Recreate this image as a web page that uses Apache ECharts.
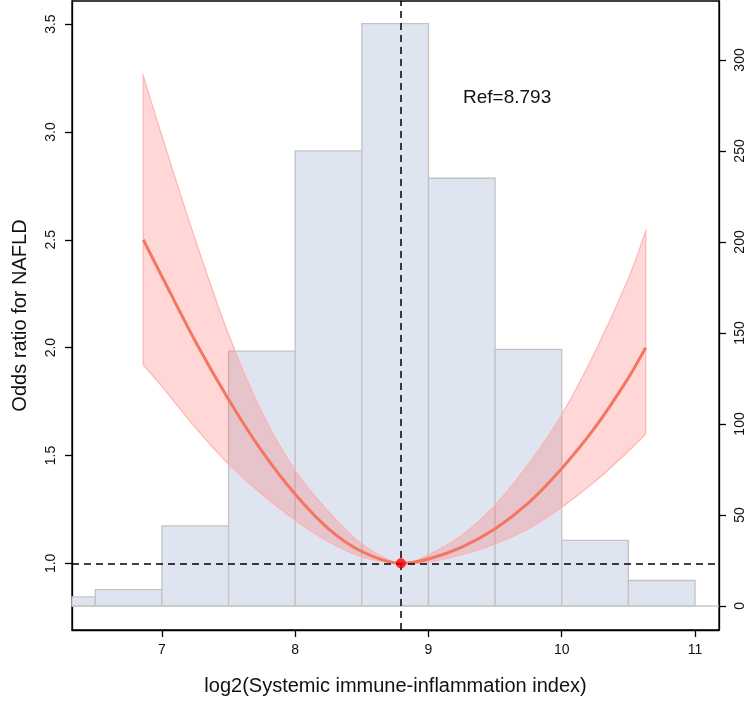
<!DOCTYPE html>
<html>
<head>
<meta charset="utf-8">
<script src="https://cdn.jsdelivr.net/npm/echarts@6/dist/echarts.min.js"></script>
<style>
html,body{margin:0;padding:0;background:#fff;}
#chart{width:750px;height:702px;}
</style>
</head>
<body>
<div id="chart"></div>
<script>
// ---- data ----
const binStarts = [6.0, 6.5, 7.0, 7.5, 8.0, 8.5, 9.0, 9.5, 10.0, 10.5];
const binEnds   = [6.5, 7.0, 7.5, 8.0, 8.5, 9.0, 9.5, 10.0, 10.5, 11.0];
const binCounts = [5, 9, 44, 140, 250, 320, 235, 141, 36, 14];

const curveX     = [6.86, 7.0, 7.25, 7.5, 7.75, 8.0, 8.25, 8.5, 8.793, 9.0, 9.25, 9.5, 9.75, 10.0, 10.25, 10.5, 10.63];
const curveOR    = [2.50, 2.33, 2.03, 1.76, 1.52, 1.32, 1.16, 1.055, 1.0, 1.02, 1.075, 1.16, 1.28, 1.44, 1.63, 1.86, 2.00];
const curveUpper = [3.26, 2.98, 2.50, 2.06, 1.70, 1.43, 1.24, 1.09, 1.0, 1.04, 1.13, 1.27, 1.46, 1.69, 1.98, 2.32, 2.54];
const curveLower = [1.92, 1.82, 1.63, 1.46, 1.32, 1.20, 1.10, 1.03, 1.0, 1.005, 1.04, 1.09, 1.16, 1.26, 1.38, 1.52, 1.60];

const refX = 8.793;
const refOR = 1.0;
const refLabel = 'Ref=8.793';

const xTicks = [7, 8, 9, 10, 11];
const yTicksOR = [1.0, 1.5, 2.0, 2.5, 3.0, 3.5];
const yTicksCount = [0, 50, 100, 150, 200, 250, 300];

const xTitle = 'log2(Systemic immune-inflammation index)';
const yTitle = 'Odds ratio for NAFLD';

// axis ranges
const xMin = 6.325, xMax = 11.18;
const yMin = 0.691, yMax = 3.607;
const cMin = -13.2, cMax = 332.4;

// ---- build ----
const FONT = 'Liberation Sans, Arial, sans-serif';
const histData = binStarts.map((s, i) => [s, binEnds[i], binCounts[i]]);
const lineData = curveX.map((x, i) => [x, curveOR[i]]);

// smooth path through screen points (Catmull-Rom -> cubic Bezier)
function bezierSegs(pts) {
  let d = '';
  for (let i = 0; i < pts.length - 1; i++) {
    const p0 = pts[Math.max(i - 1, 0)], p1 = pts[i], p2 = pts[i + 1], p3 = pts[Math.min(i + 2, pts.length - 1)];
    const c1 = [p1[0] + (p2[0] - p0[0]) / 6, p1[1] + (p2[1] - p0[1]) / 6];
    const c2 = [p2[0] - (p3[0] - p1[0]) / 6, p2[1] - (p3[1] - p1[1]) / 6];
    d += ' C' + c1[0] + ',' + c1[1] + ' ' + c2[0] + ',' + c2[1] + ' ' + p2[0] + ',' + p2[1];
  }
  return d;
}

const chart = echarts.init(document.getElementById('chart'), null, {renderer: 'canvas'});

const axisLineStyle = {color: '#000', width: 1.3};

const option = {
  animation: false,
  backgroundColor: '#fff',
  grid: {left: 72, right: 31, top: 1, bottom: 72, show: true, borderColor: '#000', borderWidth: 1.3, backgroundColor: 'transparent'},
  xAxis: {
    type: 'value', min: xMin, max: xMax,
    name: xTitle, nameLocation: 'middle', nameGap: 46,
    nameTextStyle: {fontFamily: FONT, fontSize: 20, color: '#111'},
    axisLine: {show: true, onZero: false, lineStyle: axisLineStyle},
    axisTick: {show: true, length: 7, lineStyle: axisLineStyle, customValues: xTicks},
    axisLabel: {fontFamily: FONT, fontSize: 14, color: '#111', margin: 13, customValues: xTicks, formatter: v => String(v)},
    splitLine: {show: false}
  },
  yAxis: [
    {
      type: 'value', min: yMin, max: yMax, position: 'left',
      name: yTitle, nameLocation: 'middle', nameGap: 42, nameRotate: 90,
      nameTextStyle: {fontFamily: FONT, fontSize: 20, color: '#111'},
      axisLine: {show: true, onZero: false, lineStyle: axisLineStyle},
      axisTick: {show: true, length: 7, lineStyle: axisLineStyle, customValues: yTicksOR},
      axisLabel: {fontFamily: FONT, fontSize: 14, color: '#111', rotate: 90, margin: 14, customValues: yTicksOR, formatter: v => v.toFixed(1)},
      splitLine: {show: false}
    },
    {
      type: 'value', min: cMin, max: cMax, position: 'right',
      axisLine: {show: true, onZero: false, lineStyle: axisLineStyle},
      axisTick: {show: true, length: 7, lineStyle: axisLineStyle, customValues: yTicksCount},
      axisLabel: {fontFamily: FONT, fontSize: 14, color: '#111', rotate: 90, margin: 14, customValues: yTicksCount, formatter: v => String(v)},
      splitLine: {show: false}
    }
  ],
  graphic: [{
    type: 'text', left: 463, top: 88, z: 100,
    style: {text: refLabel, fontFamily: FONT, fontSize: 19, fill: '#111'}
  }],
  series: [
    {
      type: 'custom', yAxisIndex: 1, z: 1,
      data: histData,
      encode: {x: [0, 1], y: 2},
      renderItem: function (params, api) {
        const p0 = api.coord([api.value(0), api.value(2)]);
        const p1 = api.coord([api.value(1), 0]);
        const rect = {x: p0[0], y: p0[1], width: p1[0] - p0[0], height: p1[1] - p0[1]};
        const clipped = echarts.graphic.clipRectByRect(rect, {
          x: params.coordSys.x, y: params.coordSys.y, width: params.coordSys.width, height: params.coordSys.height
        });
        if (!clipped) return;
        return {type: 'rect', shape: clipped, style: {fill: '#DEE4F0', stroke: '#C3C3C3', lineWidth: 1.3}};
      }
    },
    {
      type: 'line', yAxisIndex: 1, z: 2, silent: true, symbol: 'none',
      data: [[xMin, 0], [xMax, 0]],
      lineStyle: {color: '#C8C8C8', width: 1.3}
    },
    {
      // confidence band
      type: 'custom', yAxisIndex: 0, z: 3, silent: true,
      data: [[refX, refOR]],
      renderItem: function (params, api) {
        const up = curveX.map((x, i) => api.coord([x, curveUpper[i]]));
        const lo = curveX.map((x, i) => api.coord([x, curveLower[i]])).reverse();
        let d = 'M' + up[0][0] + ',' + up[0][1] + bezierSegs(up);
        d += ' L' + lo[0][0] + ',' + lo[0][1] + bezierSegs(lo) + ' Z';
        return {
          type: 'path', shape: {pathData: d},
          style: {fill: 'rgba(255,110,110,0.28)', stroke: '#FFB3B3', lineWidth: 1.2}
        };
      }
    },
    {
      type: 'line', yAxisIndex: 0, z: 4, smooth: 0.3, symbol: 'none',
      data: lineData,
      lineStyle: {color: '#F47660', width: 3}
    },
    {
      type: 'line', yAxisIndex: 0, z: 5, symbol: 'none', data: [],
      markLine: {
        silent: true, symbol: 'none', label: {show: false},
        lineStyle: {color: '#000', type: [7, 5], width: 1.5},
        data: [{xAxis: refX}, {yAxis: refOR}]
      }
    },
    {
      type: 'scatter', yAxisIndex: 0, z: 6, symbolSize: 10,
      itemStyle: {color: '#FF0000'},
      data: [[refX, refOR]]
    }
  ]
};
chart.setOption(option);
</script>
</body>
</html>
